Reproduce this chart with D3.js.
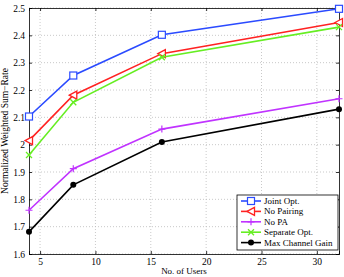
<!DOCTYPE html>
<html>
<head>
<script src="https://d3js.org/d3.v7.min.js"></script>
<style>
  body { margin: 0; background: #fff; }
  text { font-family: "Liberation Serif", "DejaVu Serif", serif; }
</style>
</head>
<body>
<svg id="chart" width="344" height="277"></svg>
<script>
  // data
  var users = [4, 8, 16, 32];
  var seriesNames = ["Joint Opt.", "No Pairing", "No PA", "Separate Opt.", "Max Channel Gain"];
  var seriesColors = ["#2b4bff", "#ff2222", "#c033ff", "#66ee22", "#000000"];
  var seriesMarkers = ["square", "triangle", "plus", "cross", "circle"];
  var jointOpt = [2.103, 2.253, 2.402, 2.497];
  var noPairing = [2.015, 2.181, 2.333, 2.447];
  var noPA = [1.760, 1.912, 2.057, 2.168];
  var separateOpt = [1.962, 2.155, 2.320, 2.430];
  var maxChannelGain = [1.681, 1.853, 2.010, 2.130];
  var seriesValues = [jointOpt, noPairing, noPA, separateOpt, maxChannelGain];
  var xTicks = [5, 10, 15, 20, 25, 30];
  var yTicks = [1.6, 1.7, 1.8, 1.9, 2, 2.1, 2.2, 2.3, 2.4, 2.5];

  var margin = {left: 29, right: 5, top: 8, bottom: 23};
  var width = 344, height = 277;
  var svg = d3.select("#chart");

  var x = d3.scaleLinear().domain([4, 32]).range([margin.left, width - margin.right]);
  var y = d3.scaleLinear().domain([1.6, 2.5]).range([height - margin.bottom, margin.top]);

  // grid
  var grid = svg.append("g");
  grid.selectAll(".gx").data(xTicks).enter().append("line")
    .attr("x1", function(d) { return x(d); }).attr("x2", function(d) { return x(d); })
    .attr("y1", y(1.6)).attr("y2", y(2.5))
    .attr("stroke", "#bbb").attr("stroke-width", 0.8).attr("stroke-dasharray", "1,2");
  grid.selectAll(".gy").data(yTicks).enter().append("line")
    .attr("y1", function(d) { return y(d); }).attr("y2", function(d) { return y(d); })
    .attr("x1", x(4)).attr("x2", x(32))
    .attr("stroke", "#bbb").attr("stroke-width", 0.8).attr("stroke-dasharray", "1,2");

  // axes
  var xAxis = svg.append("g").attr("transform", "translate(0," + y(1.6) + ")")
    .call(d3.axisBottom(x).tickValues(xTicks).tickSize(-3).tickPadding(4).tickFormat(d3.format("d")));
  var xAxisTop = svg.append("g").attr("transform", "translate(0," + y(2.5) + ")")
    .call(d3.axisTop(x).tickValues(xTicks).tickSize(-3).tickFormat(""));
  var yAxis = svg.append("g").attr("transform", "translate(" + x(4) + ",0)")
    .call(d3.axisLeft(y).tickValues(yTicks).tickSize(-3).tickPadding(4).tickFormat(d3.format(".1f")));
  var yAxisRight = svg.append("g").attr("transform", "translate(" + x(32) + ",0)")
    .call(d3.axisRight(y).tickValues(yTicks).tickSize(-3).tickFormat(""));
  yAxis.selectAll("text").text(function(d) { return d === 2 ? "2" : d3.format(".1f")(d); });
  [xAxis, xAxisTop, yAxis, yAxisRight].forEach(function(a) {
    a.select(".domain").attr("stroke", "#000").attr("stroke-width", 0.8);
    a.selectAll(".tick line").attr("stroke", "#000").attr("stroke-width", 0.8);
    a.selectAll("text").attr("font-family", "Liberation Serif").attr("font-size", 9.5).attr("fill", "#000");
  });

  svg.append("text").attr("x", x(18)).attr("y", 274).attr("text-anchor", "middle")
    .attr("font-size", 9).text("No. of Users");
  svg.append("text").attr("transform", "translate(8," + y(2.05) + ") rotate(-90)")
    .attr("text-anchor", "middle").attr("font-size", 9.5).text("Normalized Weighted Sum\u2212Rate");

  function drawMarker(g, type, cx, cy, color) {
    if (type === "square") {
      g.append("rect").attr("x", cx - 3.5).attr("y", cy - 3.5).attr("width", 7).attr("height", 7)
        .attr("fill", "#fff").attr("stroke", color).attr("stroke-width", 1.2);
    } else if (type === "triangle") {
      g.append("path").attr("d", "M" + (cx - 4) + "," + cy + "L" + (cx + 3.5) + "," + (cy - 4) + "L" + (cx + 3.5) + "," + (cy + 4) + "Z")
        .attr("fill", "#fff").attr("stroke", color).attr("stroke-width", 1.3);
    } else if (type === "plus") {
      g.append("path").attr("d", "M" + (cx - 3.5) + "," + cy + "H" + (cx + 3.5) + "M" + cx + "," + (cy - 3.5) + "V" + (cy + 3.5))
        .attr("stroke", color).attr("stroke-width", 1.2);
    } else if (type === "cross") {
      g.append("path").attr("d", "M" + (cx - 3) + "," + (cy - 3) + "L" + (cx + 3) + "," + (cy + 3) + "M" + (cx - 3) + "," + (cy + 3) + "L" + (cx + 3) + "," + (cy - 3))
        .attr("stroke", color).attr("stroke-width", 1.3);
    } else {
      g.append("circle").attr("cx", cx).attr("cy", cy).attr("r", 3).attr("fill", color);
    }
  }

  var line = d3.line().x(function(d, i) { return x(users[i]); }).y(function(d) { return y(d); });
  var plot = svg.append("g");
  seriesValues.forEach(function(vals, k) {
    plot.append("path").datum(vals).attr("d", line).attr("fill", "none")
      .attr("stroke", seriesColors[k]).attr("stroke-width", 1.6);
    vals.forEach(function(v, i) { drawMarker(plot, seriesMarkers[k], x(users[i]), y(v), seriesColors[k]); });
  });

  // legend
  var lg = svg.append("g").attr("transform", "translate(237,195)");
  lg.append("rect").attr("width", 101).attr("height", 55).attr("fill", "#fff")
    .attr("stroke", "#000").attr("stroke-width", 0.8);
  seriesNames.forEach(function(name, k) {
    var ly = 6 + k * 10.4;
    lg.append("line").attr("x1", 4).attr("x2", 24).attr("y1", ly).attr("y2", ly)
      .attr("stroke", seriesColors[k]).attr("stroke-width", 1.6);
    drawMarker(lg, seriesMarkers[k], 14, ly, seriesColors[k]);
    lg.append("text").attr("x", 27).attr("y", ly + 3).attr("font-size", 9).text(name);
  });
</script>
</body>
</html>
